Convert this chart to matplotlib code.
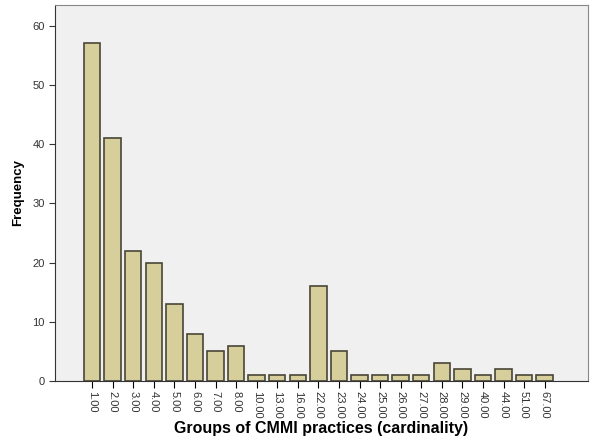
import matplotlib
matplotlib.use('Agg')
import matplotlib.pyplot as plt

plt.rcParams['font.family'] = ['Liberation Sans', 'DejaVu Sans']

# group cardinalities and how often each occurs
groups = ['1.00', '2.00', '3.00', '4.00', '5.00', '6.00', '7.00', '8.00', '10.00',
          '13.00', '16.00', '22.00', '23.00', '24.00', '25.00', '26.00', '27.00',
          '28.00', '29.00', '40.00', '44.00', '51.00', '67.00']
freq = [57, 41, 22, 20, 13, 8, 5, 6, 1, 1, 1, 16, 5, 1, 1, 1, 1, 3, 2, 1, 2, 1, 1]

fig = plt.figure(figsize=(5.92, 4.38), dpi=100)
ax = fig.add_axes([0.093, 0.13, 0.9, 0.859])
ax.set_facecolor('#f0f0f0')

pos = list(range(len(groups)))
ax.bar(pos, freq, width=0.8, color='#d6cf9c', edgecolor='#4a4636', linewidth=1.2)

ax.set_xlim(-1.8, len(groups) - 1 + 2.1)
ax.set_ylim(0, 63.5)
ax.set_xticks(pos)
ax.set_xticklabels(groups, rotation=-90, fontsize=8, color='#333333')
ax.set_yticks(range(0, 61, 10))
ax.tick_params(axis='y', labelsize=8, colors='#333333', length=4)
ax.tick_params(axis='x', length=5, pad=2)

for s in ['top', 'right']:
    ax.spines[s].set_color('#888888')
for s in ['left', 'bottom']:
    ax.spines[s].set_color('#333333')

ax.set_xlabel('Groups of CMMI practices (cardinality)', fontsize=11.5, fontweight='bold', labelpad=2)
ax.set_ylabel('Frequency', fontsize=9.5, fontweight='bold', labelpad=6)

fig.savefig('out.png', dpi=100)
